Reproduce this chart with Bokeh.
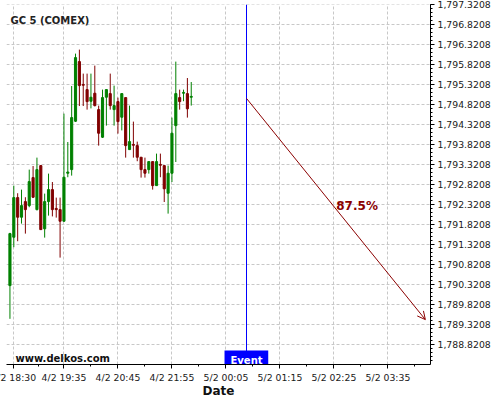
from bokeh.plotting import figure
from bokeh.models import (Range1d, FixedTicker, NumeralTickFormatter, Span, Label,
                          Arrow, OpenHead, ColumnDataSource, BoxAnnotation)
from bokeh.embed import file_html
from bokeh.resources import INLINE

# ---- data (5-minute candles, GC 5 COMEX) ----
opens = [1790.30, 1791.51, 1792.50, 1792.01, 1792.40, 1792.30, 1793.00, 1792.20, 1793.30, 1791.72,
         1792.40, 1792.70, 1792.23, 1792.20, 1791.91, 1793.11, 1793.20, 1794.41, 1795.90, 1795.33,
         1795.20, 1794.91, 1795.11, 1794.70, 1794.01, 1795.01, 1795.10, 1794.70, 1794.90, 1794.51,
         1795.00, 1793.70, 1793.83, 1793.80, 1793.51, 1793.20, 1793.20, 1793.40, 1792.80, 1793.33,
         1793.30, 1792.61, 1793.11, 1794.30, 1795.00, 1795.11, 1795.10, 1795.01]
highs = [1791.62, 1792.80, 1792.61, 1792.70, 1792.51, 1793.20, 1793.29, 1793.50, 1793.31, 1792.60,
         1793.10, 1792.89, 1792.50, 1792.50, 1794.60, 1793.89, 1795.29, 1796.10, 1796.20, 1795.60,
         1795.60, 1795.60, 1795.80, 1794.80, 1795.20, 1795.20, 1795.60, 1795.30, 1795.00, 1795.10,
         1795.00, 1794.80, 1794.40, 1793.90, 1793.51, 1793.50, 1793.40, 1793.40, 1793.60, 1793.60,
         1793.30, 1793.30, 1794.50, 1795.90, 1795.20, 1795.20, 1795.49, 1795.39]
lows = [1789.47, 1791.26, 1791.41, 1791.85, 1791.60, 1792.26, 1792.49, 1792.18, 1791.69, 1791.50,
        1792.05, 1792.03, 1792.00, 1791.00, 1791.90, 1793.01, 1793.05, 1794.39, 1794.79, 1794.79,
        1794.70, 1794.73, 1794.78, 1793.80, 1793.99, 1794.30, 1794.70, 1794.30, 1794.10, 1794.18,
        1793.50, 1793.70, 1793.50, 1793.41, 1793.00, 1793.00, 1793.10, 1792.70, 1792.80, 1793.01,
        1792.39, 1792.10, 1792.89, 1793.39, 1794.70, 1794.91, 1794.50, 1794.80]
closes = [1791.60, 1792.50, 1792.01, 1792.30, 1792.20, 1792.90, 1792.51, 1793.20, 1791.70, 1792.40,
          1792.70, 1792.20, 1792.20, 1791.91, 1793.01, 1793.14, 1794.50, 1796.00, 1795.30, 1795.31,
          1794.90, 1795.01, 1794.80, 1794.11, 1795.00, 1795.20, 1794.80, 1794.80, 1794.40, 1795.10,
          1793.80, 1793.90, 1793.81, 1793.51, 1793.20, 1793.11, 1793.40, 1792.80, 1793.40, 1793.31,
          1792.72, 1793.11, 1794.11, 1795.10, 1794.90, 1795.13, 1794.72, 1795.03]

x_tick_idx = [1, 14, 28, 42, 56, 70, 84, 98]
x_tick_labels = ["4/2 18:30", "4/2 19:35", "4/2 20:45", "4/2 21:55",
                 "5/2 00:05", "5/2 01:15", "5/2 02:25", "5/2 03:35"]
x_minor_idx = [7.5, 21, 35, 49, 63, 77, 91, 105]
y_ticks = [1788.8208, 1789.3208, 1789.8208, 1790.3208, 1790.8208, 1791.3208,
           1791.8208, 1792.3208, 1792.8208, 1793.3208, 1793.8208, 1794.3208,
           1794.8208, 1795.3208, 1795.8208, 1796.3208, 1796.8208, 1797.3208]

event_index = 61.33
arrow_start_price = 1794.98
arrow_end_index = 107.7
arrow_end_price = 1789.45
prob_text = "87.5%"

# ---- styles ----
GREEN = "#008000"
RED = "#800000"
FONT = "DejaVu Sans"

idx = list(range(len(opens)))
colors = [GREEN if c >= o else RED for o, c in zip(opens, closes)]
src = ColumnDataSource(dict(
    x=idx, o=opens, h=highs, l=lows, c=closes,
    top=[max(o, c) for o, c in zip(opens, closes)],
    bot=[min(o, c) for o, c in zip(opens, closes)],
    color=colors))

p = figure(frame_width=424, frame_height=360,
           x_range=Range1d(-0.894, 109.03), y_range=Range1d(1788.328, 1797.328),
           output_backend="svg", toolbar_location=None, y_axis_location="right",
           min_border_left=20, min_border_top=10, min_border_right=0, min_border_bottom=0,
           background_fill_color="white", border_fill_color="white")
p.margin = (-6, 0, 0, -14)
p.outline_line_color = None

p.segment(x0="x", y0="h", x1="x", y1="l", color="color", line_width=1, source=src)
p.vbar(x="x", top="top", bottom="bot", width=0.55, fill_color="color",
       line_color="color", line_width=1, source=src)

# axes
xa = p.xaxis[0]
xa.ticker = FixedTicker(ticks=x_tick_idx, minor_ticks=x_minor_idx)
xa.major_label_overrides = {t: l for t, l in zip(x_tick_idx, x_tick_labels)}
xa.axis_label = "Date"
ya = p.yaxis[0]
ya.ticker = FixedTicker(ticks=y_ticks,
                        minor_ticks=[round(y_ticks[0] - 0.5 + 0.1 * k, 4) for k in range(100)])
ya.formatter = NumeralTickFormatter(format="0,0.0000")
for ax in (xa, ya):
    ax.axis_line_color = "black"
    ax.major_tick_line_color = "black"
    ax.minor_tick_line_color = "black"
    ax.major_tick_in = 0
    ax.major_tick_out = 4
    ax.minor_tick_in = 0
    ax.minor_tick_out = 2
    ax.major_label_standoff = 3
    ax.major_label_text_font = FONT
    ax.major_label_text_font_size = "9.3px"
    ax.major_label_text_color = "#1a1a1a"
xa.axis_label_text_font = FONT
xa.axis_label_text_font_style = "bold"
xa.axis_label_text_font_size = "12px"
xa.axis_label_standoff = -2
xa.axis_label_text_color = "#111111"

p.grid.grid_line_color = "#c8c8c8"
p.grid.grid_line_dash = "3 2"
p.grid.grid_line_width = 1

# event line
p.add_layout(Span(location=event_index, dimension="height", line_color="#0000ff", line_width=1))

# arrow
p.add_layout(Arrow(end=OpenHead(size=8, line_color="#8b0000", line_width=1),
                   x_start=event_index, y_start=arrow_start_price,
                   x_end=arrow_end_index, y_end=arrow_end_price,
                   line_color="#8b0000", line_width=1))

p.add_layout(Label(x=84.6, y=1792.28, text=prob_text, text_font=FONT, text_font_style="bold",
                   text_font_size="12px", text_color="#8b0000", text_align="left",
                   text_baseline="alphabetic"))

p.add_layout(Label(x=0.14, y=1796.94, text="GC 5 (COMEX)", text_font=FONT,
                   text_font_style="bold", text_font_size="10px", text_color="#222222",
                   text_align="left", text_baseline="alphabetic"))

p.add_layout(Label(x=1.44, y=1788.478, text="www.delkos.com", text_font=FONT,
                   text_font_style="bold", text_font_size="10px", text_color="#111111",
                   text_align="left", text_baseline="alphabetic"))

# event tag
p.add_layout(BoxAnnotation(left=event_index - 5.7, right=event_index + 5.63,
                           bottom=1788.338, top=1788.678,
                           fill_color="#0000ff", fill_alpha=1.0, line_color=None))
p.add_layout(Label(x=event_index, y=1788.44, text="Event", text_font=FONT,
                   text_font_style="bold", text_font_size="10px", text_color="white",
                   text_align="center", text_baseline="alphabetic"))

open("out.html", "w").write(file_html(p, INLINE))
